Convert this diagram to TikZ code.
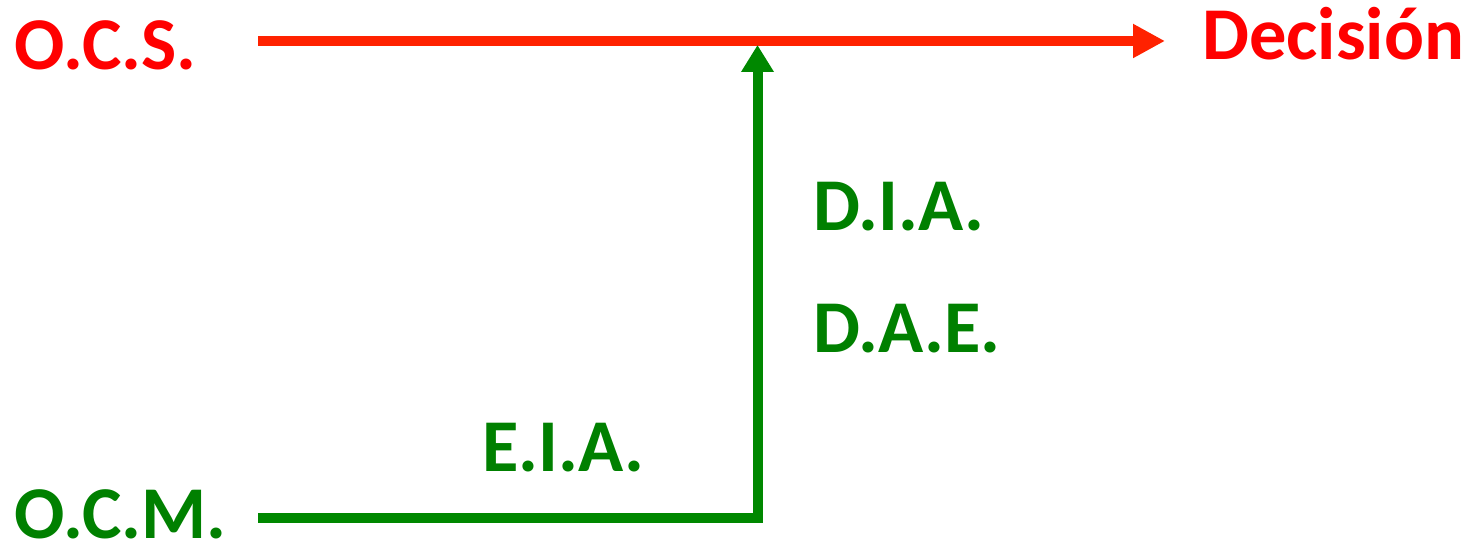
\documentclass[tikz,border=0pt]{standalone}
\usepackage{fontspec}
\setmainfont{Carlito}
\usetikzlibrary{arrows.meta}
\definecolor{ocsred}{RGB}{255,0,0}
\definecolor{linered}{RGB}{255,34,0}
\definecolor{ocmgreen}{RGB}{0,128,0}
\definecolor{linegreen}{RGB}{0,136,0}
\tikzstyle{redlabel}=[text=ocsred,font=\fontsize{74.5}{80}\selectfont\bfseries,inner sep=0pt,anchor=base west]
\tikzstyle{greenlabel}=[text=ocmgreen,font=\fontsize{74.5}{80}\selectfont\bfseries,inner sep=0pt,anchor=base west]
\tikzstyle{redflow} = [draw,linered,line width=10pt,-{Triangle[length=32pt,width=32pt]}]
\tikzstyle{greenflow} = [draw,linegreen,line width=10pt,miter limit=4,-{Triangle[length=27pt,width=31pt]}]

\begin{document}
\begin{tikzpicture}[x=1pt,y=1pt]
    \useasboundingbox (0,0) rectangle (1470,545);

    % labels
    \node[redlabel] (ocs) at (14,475) {O.C.S.};
    \node[redlabel] (decision) at (1202,485) {Decisión};
    \foreach \pos/\name/\label in {{(14,6)/ocm/O.C.M.}, {(482,73)/eia/E.I.A.}, {(813,314)/dia/D.I.A.}, {(813,192)/dae/D.A.E.}}
        \node[greenlabel] (\name) at \pos {\label};

    % line ends
    \coordinate (redstart) at (258,504);
    \coordinate (redtip) at (1165,504);
    \coordinate (greenstart) at (258,27);
    \coordinate (greencorner) at (757.5,27);
    \coordinate (greentip) at (757.5,500);

    % flows
    \path[redflow] (redstart) -- (redtip);
    \path[greenflow] (greenstart) -- (greencorner) -- (greentip);
\end{tikzpicture}
\end{document}
